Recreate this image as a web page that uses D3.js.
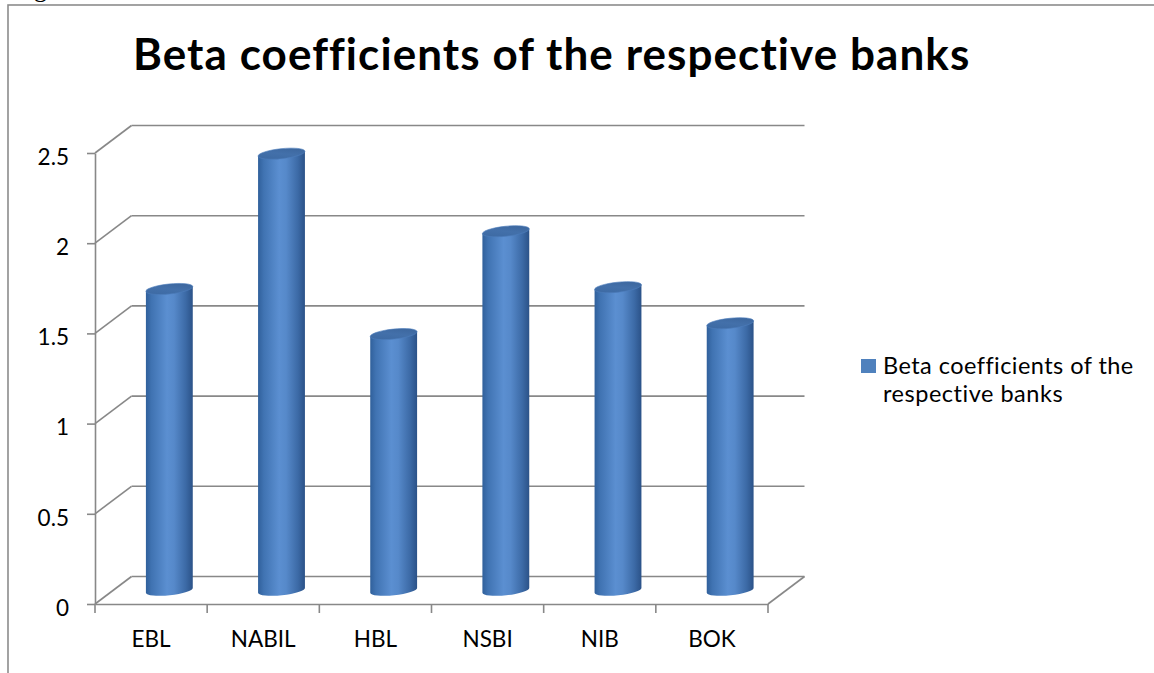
<!DOCTYPE html>
<html>
<head>
<meta charset="utf-8">
<script src="https://cdn.jsdelivr.net/npm/d3@7"></script>
<style>
  html, body { margin: 0; padding: 0; background: #ffffff; }
  svg { display: block; }
  text { font-family: Lato, "Open Sans", sans-serif; fill: #000; }
</style>
</head>
<body>
<svg id="chart" width="1154" height="673"></svg>
<script>
const categories = ["EBL", "NABIL", "HBL", "NSBI", "NIB", "BOK"];
const betaValues = [1.67, 2.42, 1.42, 1.99, 1.68, 1.48];
const yTicks = [0, 0.5, 1, 1.5, 2, 2.5];
const yTickLabels = ["0", "0.5", "1", "1.5", "2", "2.5"];
const chartTitle = "Beta coefficients of the respective banks";
const seriesName = ["Beta coefficients of the", "respective banks"];

(function () {
const svg = d3.select("#chart");
const W = 1154, H = 673;

// fit a text to a target width using letter spacing
function fitWidth(sel, target) {
  const n = sel.text().length;
  const w = sel.node().getComputedTextLength();
  sel.attr("letter-spacing", (target - w) / (n - 1));
}

// 3D oblique depth offset
const DX = 36.5, DY = -27.5;
const gridColor = "#888888";

const x = d3.scaleBand().domain(categories).range([95, 768]).paddingInner(0).paddingOuter(0);
const y = d3.scaleLinear().domain([0, 2.5]).range([604, 153]);

// frame
svg.append("rect").attr("x", 8).attr("y", 5).attr("width", W + 20).attr("height", H + 20)
  .attr("fill", "none").attr("stroke", "#8c8c8c").attr("stroke-width", 1.6);

// fragment of document text above the frame
svg.append("text").attr("x", 34).attr("y", -3)
  .style("font-family", "'Liberation Serif', serif").attr("font-size", 26).text("g");

// title
const title = svg.append("text").attr("x", 133).attr("y", 70)
  .attr("font-weight", "bold").attr("font-size", 44).text(chartTitle);
fitWidth(title, 835);

const g = svg.append("g");
const x0 = x.range()[0], x1 = x.range()[1];

// back wall gridlines + side wall diagonals
yTicks.forEach(t => {
  const yf = y(t);
  g.append("line").attr("x1", x0).attr("y1", yf).attr("x2", x0 + DX).attr("y2", yf + DY)
    .attr("stroke", gridColor).attr("stroke-width", 1.6);
  g.append("line").attr("x1", x0 + DX).attr("y1", yf + DY).attr("x2", x1 + DX).attr("y2", yf + DY)
    .attr("stroke", gridColor).attr("stroke-width", 1.6);
});
// floor right edge
g.append("line").attr("x1", x1).attr("y1", y(0)).attr("x2", x1 + DX).attr("y2", y(0) + DY)
  .attr("stroke", gridColor).attr("stroke-width", 1.6);

// y axis
const yAxis = d3.axisLeft(y).tickValues(yTicks).tickSize(8).tickSizeOuter(0)
  .tickFormat((d, i) => yTickLabels[i]);
const ya = svg.append("g").attr("transform", `translate(${x0},0)`).call(yAxis);
ya.select(".domain").attr("stroke", gridColor).attr("stroke-width", 1.6);
ya.selectAll(".tick line").attr("stroke", gridColor).attr("stroke-width", 1.6);
ya.selectAll(".tick text").attr("x", -26).attr("dy", "0.5em").attr("font-size", 22.5)
  .style("font-family", "Lato, sans-serif").attr("fill", "#000");

// x axis
const xAxis = d3.axisBottom(x).tickSize(0).tickSizeOuter(0);
const xa = svg.append("g").attr("transform", `translate(0,${y(0)})`).call(xAxis);
xa.select(".domain").attr("stroke", gridColor).attr("stroke-width", 1.6);
xa.selectAll(".tick text").attr("y", 43).attr("dy", 0).attr("font-size", 22.5)
  .style("font-family", "Lato, sans-serif").attr("fill", "#000");
// category boundary ticks
const bounds = categories.map(c => x(c)).concat([x1]);
svg.append("g").selectAll("line").data(bounds).join("line")
  .attr("x1", d => d).attr("x2", d => d).attr("y1", y(0)).attr("y2", y(0) + 9)
  .attr("stroke", gridColor).attr("stroke-width", 1.6);

// gradients
const defs = svg.append("defs");
const bodyGrad = defs.append("linearGradient").attr("id", "cylBody").attr("x1", 0).attr("x2", 1).attr("y1", 0).attr("y2", 0);
[[0, "#30609b"], [0.12, "#4073b2"], [0.45, "#5b8fd1"], [0.6, "#5689ca"], [0.85, "#3c6aa6"], [1, "#2b5288"]]
  .forEach(([o, c]) => bodyGrad.append("stop").attr("offset", o).attr("stop-color", c));
const topGrad = defs.append("linearGradient").attr("id", "cylTop").attr("x1", 0).attr("x2", 1).attr("y1", 1).attr("y2", 0);
[[0, "#3b68a1"], [0.5, "#4370aa"], [1, "#3a6399"]]
  .forEach(([o, c]) => topGrad.append("stop").attr("offset", o).attr("stop-color", c));

// cylinders at mid-depth
const midDX = DX / 2, midDY = DY / 2;
const rx = x.bandwidth() * 0.21, ry = 5, tilt = -6;
const cyl = svg.append("g").selectAll("g").data(categories.map((c, i) => ({ c, v: betaValues[i] })))
  .join("g");
cyl.each(function (d) {
  const sel = d3.select(this);
  const cx = x(d.c) + x.bandwidth() / 2 + midDX;
  const yb = y(0) + midDY;
  const yt = y(d.v) + midDY;
  const a = tilt * Math.PI / 180;
  const ex = rx * Math.cos(a), ey = rx * Math.sin(a);
  const p = `M${cx - ex},${yt - ey} L${cx - ex},${yb - ey} A${rx},${ry} ${tilt} 0 0 ${cx + ex},${yb + ey} L${cx + ex},${yt + ey} Z`;
  sel.append("path").attr("d", p).attr("fill", "url(#cylBody)");
  sel.append("ellipse").attr("cx", 0).attr("cy", 0).attr("rx", rx).attr("ry", ry)
    .attr("transform", `translate(${cx},${yt}) rotate(${tilt})`)
    .attr("fill", "url(#cylTop)").attr("stroke", "#4d7dbb").attr("stroke-width", 0.6);
});

// legend
svg.append("rect").attr("x", 861).attr("y", 359).attr("width", 15).attr("height", 14).attr("fill", "#4f81bd");
const l1 = svg.append("text").attr("x", 883).attr("y", 374).attr("font-size", 23.5).text(seriesName[0]);
fitWidth(l1, 249);
const l2 = svg.append("text").attr("x", 883).attr("y", 402).attr("font-size", 23.5).text(seriesName[1]);
fitWidth(l2, 180);
})();
</script>
</body>
</html>
